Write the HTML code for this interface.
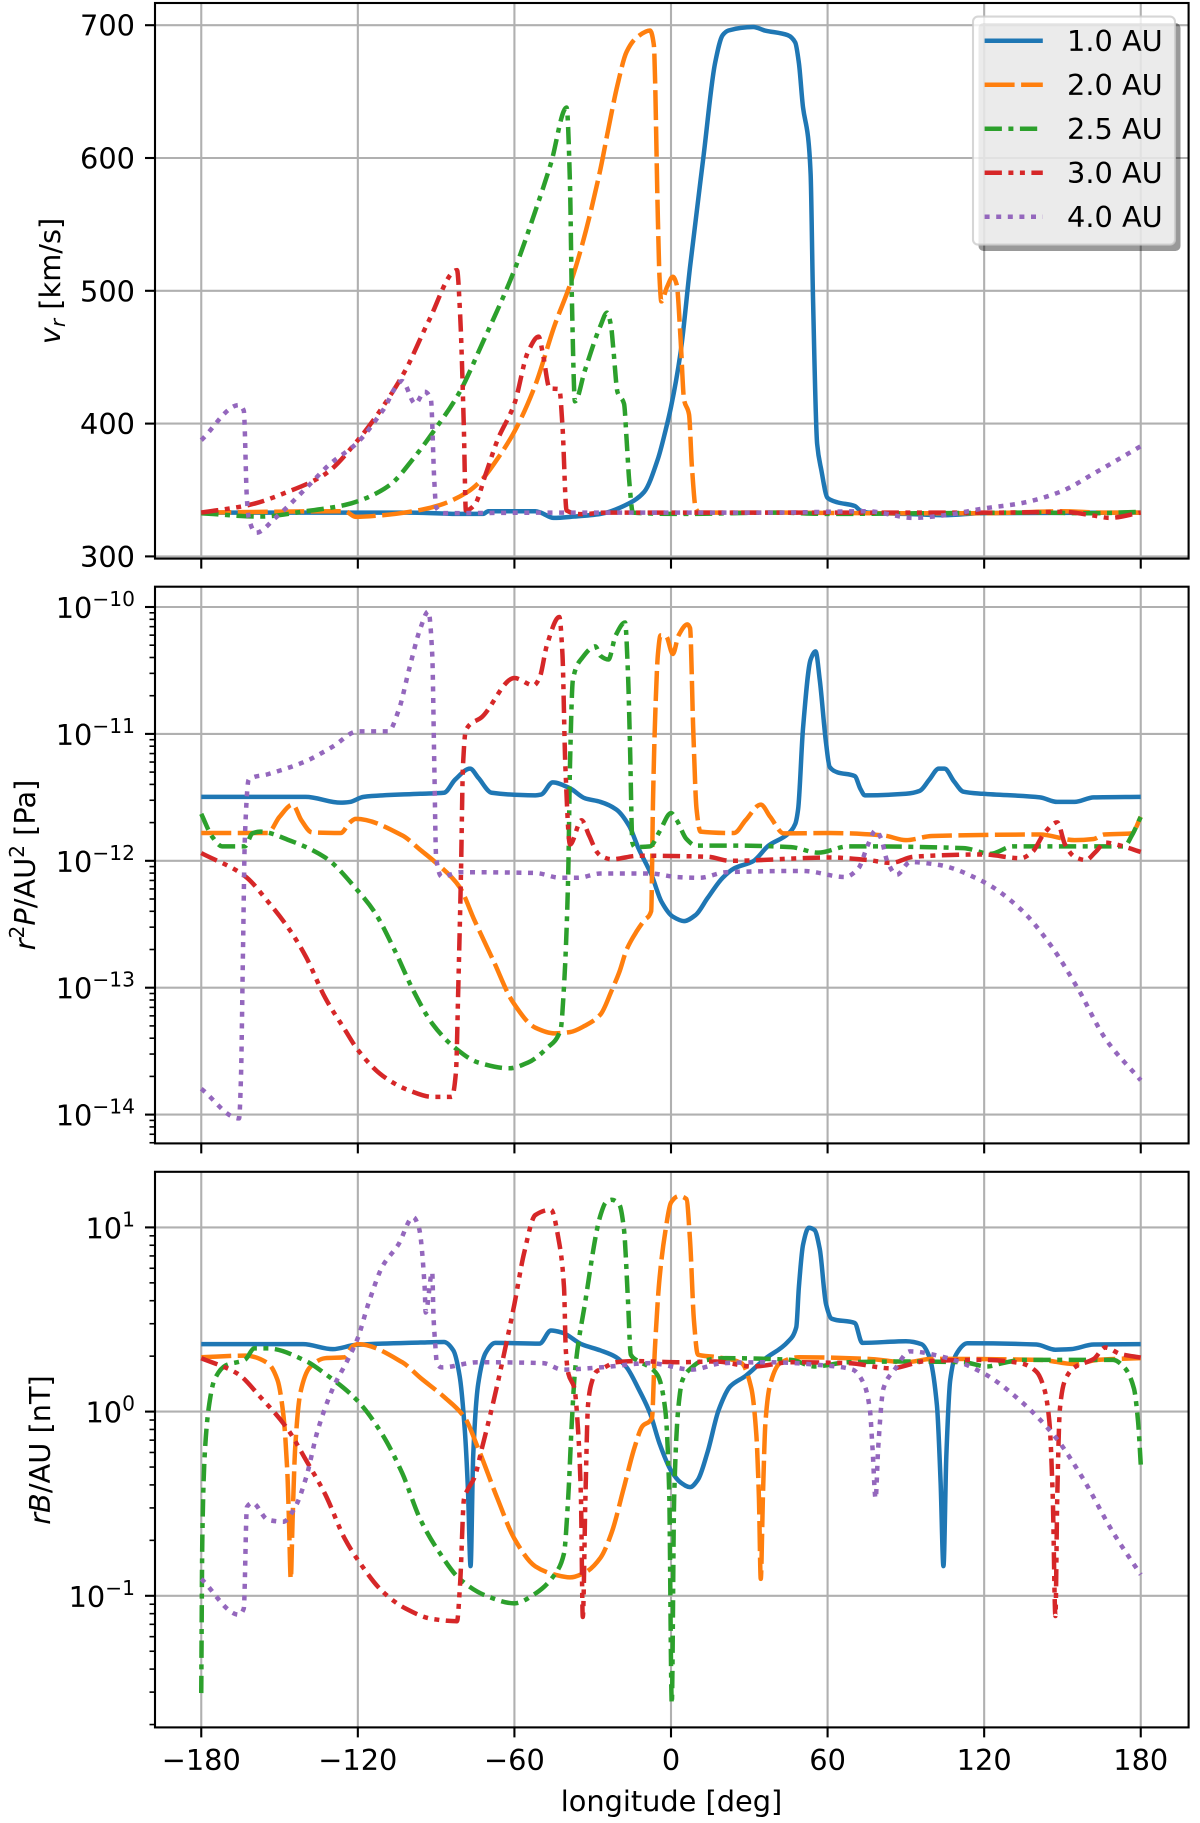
<!DOCTYPE html>
<html lang="en">
<head>
<meta charset="utf-8">
<title>Radial profiles vs longitude</title>
<style>
html,body{margin:0;padding:0;background:#fff;}
svg{display:block;font-family:"DejaVu Sans","Liberation Sans",sans-serif;}
</style>
</head>
<body>
<svg id="figure" xmlns="http://www.w3.org/2000/svg" width="1200" height="1823" viewBox="0 0 1200 1823">
<rect x="0" y="0" width="1200" height="1823" fill="#fff"/>
<defs>
<clipPath id="clip-v"><rect x="155" y="3" width="1033.6" height="555.6"/></clipPath>
<clipPath id="clip-p"><rect x="155" y="586.7" width="1033.6" height="556.7"/></clipPath>
<clipPath id="clip-b"><rect x="155" y="1171.8" width="1033.6" height="555.6"/></clipPath>
</defs>
<g id="panel-v"></g>
<g id="panel-p"></g>
<g id="panel-b"></g>

<text font-size="28.8" fill="#000" text-anchor="middle" transform="translate(60 281) rotate(-90)"><tspan font-style="italic">v</tspan><tspan font-style="italic" font-size="20.2" dy="5">r</tspan><tspan dy="-5"> [km/s]</tspan></text>
<text font-size="28.8" fill="#000" text-anchor="middle" transform="translate(35 865) rotate(-90)"><tspan font-style="italic">r</tspan><tspan font-size="20.2" dy="-11">2</tspan><tspan font-style="italic" dy="11">P</tspan><tspan>/AU</tspan><tspan font-size="20.2" dy="-11">2</tspan><tspan dy="11"> [Pa]</tspan></text>
<text font-size="28.8" fill="#000" text-anchor="middle" transform="translate(50 1450) rotate(-90)"><tspan font-style="italic">rB</tspan><tspan>/AU [nT]</tspan></text>
<text font-size="28.8" fill="#000" text-anchor="middle" x="671.5" y="1811">longitude [deg]</text>

<g id="legend"></g>
</svg>

<script>
// ---- Shared axis data ----
const lonTicks = [-180, -120, -60, 0, 60, 120, 180];
const lonTickLabels = ['\u2212180', '\u2212120', '\u221260', '0', '60', '120', '180'];
const velTicks = [300, 400, 500, 600, 700];
const velTickLabels = ['300', '400', '500', '600', '700'];
const presTickExponents = [-10, -11, -12, -13, -14];
const presMinorDecades = [-15, -14, -13, -12, -11, -10];
const fieldTickExponents = [1, 0, -1];
const fieldMinorDecades = [-2, -1, 0, 1];
const seriesLabels = ['1.0 AU', '2.0 AU', '2.5 AU', '3.0 AU', '4.0 AU'];

// ---- Panel 1: radial speed [km/s] ----
const velLon1 = [-180,-140,-115,-100,-81,-72,-70,-52,-50,-45,-37,-27,-16,-10.3,-5,-2.2,0,3.7,7.3,12.5,16.9,19.8,22,31.5,36,44.7,47.6,49,50.6,52.5,53.5,54.4,56,57.6,60,63.8,70.4,72.6,75.5,90,104.8,119.5,180];
const velVal1 = [333,333,333,333,332,332,334,334,333,329,330,332,340,348.5,373.5,394,412.5,454,518,602,671.6,692.5,696,698.6,696,692.5,687,671.6,638,616,588,496,384.7,365,344,340.7,338,334.5,333,332,331,332.6,333];

const velLon2 = [-180,-125,-120.8,-110.5,-96,-88.5,-78,-72.4,-66.5,-60,-52,-44.6,-38.7,-34,-27,-24,-20.5,-17,-13,-8,-6.6,-5,-4.4,-3.7,-1.5,0.7,2.2,3.7,5,6.9,8,9.5,11,40,80,120,150,165,180];
const velVal2 = [333,334,329.8,331,335,338.7,348.5,358,373.5,394,429,474,504.5,535,592,622,655,680,691,696,685.5,552,510,492,503,510.6,504.5,462.7,418,407,368,336,333,333,332.5,332.5,334,333,333];

const velLon3 = [-180,-157.4,-140,-125,-118,-107.6,-98.8,-91.4,-81,-72.4,-60,-52,-46,-40,-38.7,-38,-36.8,-33,-27,-24.5,-23,-22,-20.5,-18,-17,-16,-14.6,5,40,60,100,140,160,180];
const velVal3 = [332.5,330,334,338.7,343,354,373.5,393,423.7,460,515.6,560,596,638,579.7,496,416.7,440,473.8,483.6,473.8,454,423.7,415,387.5,356.8,333,332,333,332,332.5,333,332.5,333.5];

const velLon4 = [-180,-161.8,-147,-132.5,-120,-110.5,-101.7,-93,-82,-80.8,-79.4,-78.6,-75.3,-71,-66.5,-60,-54.8,-50.7,-49,-46.5,-42.8,-41.6,-40,-34,-25,40,90,125,150,163,168,180];
const velVal4 = [333,338.7,348.5,362,387.5,412.5,440.4,476.6,515.6,482,398.6,334.5,338.7,362,387.5,415,454,465.5,451.5,426.5,426,398.6,334.5,331.8,333,333,333,333,333.5,330.4,329,333];

const velLon5 = [-180,-165.5,-163.7,-162.5,-161.8,-159,-151.6,-140,-131,-120,-110.5,-103,-98,-94.4,-92,-90.7,-90,-87,-40,40,75,93,104.8,119.5,134,149,163.4,180];
const velVal5 = [387.5,414,409.7,343,329,317.8,329,351,369,386,409.7,432,415,424,418,356.8,337,332.6,333,333,334,329,331,336,340,348.5,364,383];

// ---- Panel 2: log10 of r^2 P / AU^2 [Pa] ----
const presLon1 = [-180,-140,-126.6,-123,-117.8,-96,-87,-82.7,-77,-73.8,-68.7,-52,-49.8,-45.3,-38.7,-33,-27,-21,-16,-12.5,-7.3,-3.7,0.7,5,9.5,14,19.8,24.2,31.5,37.4,44.7,47.6,48.7,50.6,53.5,55.4,57,59.4,60.8,63.8,70.4,72.6,74.3,90,95.3,99,102.6,104.8,108.5,112,119.5,141.4,148,154.6,162,180];
const presVal1 = [-11.496,-11.496,-11.542,-11.536,-11.496,-11.472,-11.464,-11.36,-11.274,-11.347,-11.464,-11.484,-11.478,-11.382,-11.429,-11.507,-11.536,-11.595,-11.726,-11.9,-12.12,-12.32,-12.44,-12.475,-12.426,-12.294,-12.134,-12.06,-12.003,-11.88,-11.79,-11.71,-11.595,-10.953,-10.414,-10.35,-10.574,-11.07,-11.26,-11.303,-11.332,-11.434,-11.484,-11.472,-11.449,-11.36,-11.274,-11.274,-11.376,-11.455,-11.472,-11.5,-11.536,-11.536,-11.5,-11.496];

const presLon2 = [-180,-154.5,-150,-145,-141.6,-137.6,-126.6,-123,-120.8,-103,-96,-90,-81,-75.3,-68,-60.7,-52,-44.6,-38.7,-33,-27,-22.7,-19.8,-17,-13.2,-10.3,-7.6,-6.9,-6.2,-5,-4,-1.9,0.7,2.9,6.3,7.3,8.5,9.8,11.3,24.2,28.6,34.4,38,43.2,60.8,81.4,90,100,141.4,154.6,162,166,176.6,180];
const presVal2 = [-11.781,-11.781,-11.653,-11.557,-11.682,-11.776,-11.781,-11.697,-11.67,-11.8,-11.915,-12.017,-12.207,-12.469,-12.79,-13.11,-13.315,-13.36,-13.35,-13.3,-13.21,-13.02,-12.877,-12.7,-12.557,-12.47,-12.397,-11.536,-10.953,-10.37,-10.224,-10.23,-10.37,-10.224,-10.137,-10.166,-10.953,-11.595,-11.77,-11.781,-11.68,-11.557,-11.653,-11.784,-11.781,-11.8,-11.837,-11.805,-11.793,-11.837,-11.828,-11.793,-11.784,-11.653];

const presLon3 = [-180,-175.7,-172,-163.3,-160.4,-157.4,-145.7,-132.5,-120,-113.4,-106,-98.8,-91.4,-82.7,-73.8,-62,-54.8,-47.5,-42.3,-41,-39.4,-38.7,-37.6,-34,-29,-27,-24,-21.2,-17.6,-16.5,-15.7,-14.8,-13.9,-8,-4.4,0,2.2,5.9,9.5,24,46,56.4,68,112,122.4,131,173.7,176.6,180];
const presVal3 = [-11.63,-11.813,-11.886,-11.886,-11.784,-11.77,-11.843,-11.974,-12.236,-12.41,-12.7,-13.02,-13.285,-13.475,-13.59,-13.635,-13.59,-13.475,-13.33,-12.99,-12.12,-11.245,-10.574,-10.4,-10.31,-10.385,-10.414,-10.224,-10.122,-10.516,-11.1,-11.857,-11.892,-11.886,-11.77,-11.624,-11.68,-11.828,-11.88,-11.88,-11.892,-11.936,-11.886,-11.9,-11.945,-11.886,-11.886,-11.8,-11.653];

const presLon4 = [-180,-163.3,-154.5,-145.7,-139.8,-132.5,-125,-120,-110.5,-100.3,-91.5,-84,-82.4,-81.5,-80.5,-79.7,-78.6,-72.4,-60,-52.6,-50.4,-47.5,-42.8,-41.6,-40.5,-38.7,-34.3,-31.4,-28.4,-27,-22.7,-12.5,14,22.7,60.8,75.5,84.3,93,119.5,134,138.5,143,148,151,154.6,159,162.7,166.4,172.2,180];
const presVal4 = [-11.939,-12.12,-12.32,-12.557,-12.76,-13.08,-13.33,-13.49,-13.694,-13.81,-13.86,-13.86,-13.665,-12.99,-12.12,-11.245,-10.97,-10.866,-10.56,-10.618,-10.56,-10.297,-10.079,-10.37,-11.245,-11.872,-11.68,-11.8,-11.93,-11.96,-11.988,-11.96,-11.968,-12,-11.974,-11.994,-12.017,-11.968,-11.95,-11.98,-11.93,-11.784,-11.697,-11.872,-11.968,-11.994,-11.93,-11.857,-11.88,-11.93];

const presLon5 = [-180,-165.5,-164.8,-164,-163.3,-161.8,-154.5,-140,-129.6,-120,-108.3,-104.3,-100.3,-96,-93,-91.5,-90.7,-90,-87.8,-81,-52,-42.3,-35.7,-27,-8,2.2,11,21,50.6,66.7,71.8,75.5,78.4,80.6,82.8,86.5,91.6,102,119.5,134,145.8,156,166.4,180];
const presVal5 = [-13.796,-14.03,-13.72,-12.7,-11.828,-11.36,-11.318,-11.216,-11.1,-10.98,-10.98,-10.81,-10.487,-10.166,-10.035,-10.37,-11.245,-11.974,-12.125,-12.09,-12.096,-12.134,-12.134,-12.1,-12.1,-12.128,-12.134,-12.09,-12.08,-12.128,-12.06,-11.872,-11.76,-11.828,-12,-12.11,-12.01,-12.03,-12.163,-12.382,-12.674,-13.01,-13.4,-13.73];

// ---- Panel 3: log10 of r B / AU [nT] ----
const fieldLon1 = [-180,-141,-129.6,-120.8,-96,-87,-83.4,-81,-79,-77.8,-76.8,-75.8,-73.9,-71,-67.3,-50.4,-46,-41.6,-34.3,-27,-21.2,-17,-12.5,-8,-4.4,0,3.7,7.3,10.3,14,18.3,22.7,28.6,36,44.7,48,49,50.6,52.8,55,57,59.4,61.6,70.4,73.3,90,96,99,101.9,103.3,104.4,105.5,107,109.2,113.6,140,147.3,153.2,162,180];
const fieldVal1 = [0.366,0.366,0.339,0.362,0.375,0.378,0.332,0.194,-0.103,-0.426,-0.839,-0.242,0.148,0.32,0.373,0.369,0.44,0.428,0.366,0.332,0.297,0.24,0.125,-0.01,-0.173,-0.32,-0.385,-0.41,-0.37,-0.22,0.01,0.137,0.194,0.286,0.378,0.458,0.676,0.906,0.998,0.986,0.883,0.584,0.504,0.481,0.373,0.382,0.366,0.297,0.034,-0.38,-0.839,-0.242,0.171,0.309,0.371,0.364,0.336,0.339,0.364,0.366];

const fieldLon2 = [-180,-163,-154.5,-150.8,-148.6,-147,-146.4,-145.7,-145,-144,-142,-138.4,-132.5,-125,-122,-120,-103,-96,-87,-79,-74,-66.5,-60,-52,-44.6,-38.7,-33,-27,-22.7,-18.3,-14,-11,-7.3,-6.2,-4.4,-2.2,0,2.9,5.9,7.3,8.8,10.3,16.9,27,30.8,32.7,33.7,34.4,35.2,36.2,38,41.8,49,75.5,90,100,141.4,154.6,163.4,180];
const fieldVal2 = [0.295,0.304,0.263,0.172,-0.01,-0.334,-0.587,-0.908,-0.587,-0.195,0.103,0.24,0.29,0.295,0.355,0.366,0.268,0.183,0.08,-0.034,-0.196,-0.472,-0.69,-0.84,-0.885,-0.9,-0.874,-0.793,-0.655,-0.426,-0.196,-0.08,-0.035,0.332,0.722,0.975,1.135,1.17,1.154,0.929,0.493,0.309,0.297,0.263,0.125,-0.126,-0.472,-0.908,-0.472,-0.057,0.148,0.263,0.295,0.286,0.268,0.286,0.281,0.258,0.281,0.29];

const fieldLon3 = [-180,-179.6,-178.7,-177,-175,-170.6,-163.3,-159.6,-154.5,-139.8,-132.5,-120,-110.5,-103,-96,-88.5,-81,-70.8,-60,-52,-44.6,-41,-39.4,-38,-36.8,-33,-27,-25,-22.7,-19.8,-18,-16.5,-15.4,-12.5,-8,-5,-2.2,-0.7,0.3,1.2,2.9,4.4,8,11.7,21,46,55,68,90,112,121,127,134.8,169.4,173.7,177.4,179,180];
const fieldVal3 = [-1.528,-0.701,-0.242,0.034,0.171,0.251,0.281,0.343,0.343,0.274,0.205,0.057,-0.127,-0.334,-0.587,-0.77,-0.908,-1,-1.041,-0.988,-0.885,-0.77,-0.47,-0.057,0.217,0.584,1.067,1.135,1.15,1.124,0.986,0.607,0.309,0.274,0.24,0.194,0.01,-0.426,-1.586,-0.472,0.034,0.171,0.24,0.274,0.29,0.281,0.245,0.268,0.272,0.268,0.245,0.263,0.281,0.281,0.24,0.125,-0.058,-0.288];

const fieldLon4 = [-180,-166,-157.4,-147,-139.8,-132.5,-125,-120,-110.5,-101.7,-91.4,-82,-80.8,-79.3,-78,-75.3,-72.4,-68,-63,-60,-56.3,-52,-46,-43,-41,-40.3,-39.3,-37,-35.6,-34.5,-33.8,-32.8,-31.8,-30.6,-28.4,-27,-21,-14,2.2,17,31.5,46,68,84.3,97.5,119.5,134,140,143,145,146.3,147.3,148,149,151,154.6,162,166.4,172.2,180];
const fieldVal4 = [0.29,0.205,0.08,-0.093,-0.265,-0.449,-0.69,-0.805,-0.977,-1.069,-1.126,-1.138,-0.93,-0.472,-0.426,-0.357,-0.196,0.057,0.378,0.584,0.86,1.067,1.096,0.929,0.676,0.332,0.205,0.125,-0.103,-0.472,-1.115,-0.472,0.034,0.148,0.22,0.228,0.268,0.274,0.268,0.272,0.245,0.268,0.263,0.235,0.274,0.281,0.263,0.217,0.125,-0.057,-0.472,-1.11,-0.472,0.011,0.171,0.24,0.286,0.348,0.313,0.293];

const fieldLon5 = [-180,-165.5,-163.7,-162.5,-160.4,-154.5,-148.6,-144,-139.8,-135.4,-129.6,-123.7,-120,-116,-110.5,-104.5,-98.8,-96.6,-94.4,-94,-91.5,-91,-90.4,-89.7,-87.8,-74,-49,-41.6,-27,-8,8,19.8,37.4,59.4,69.6,74,76.2,77.2,78.4,79.4,81.4,85.7,91.6,104.8,119.5,134,147.3,157.6,169.4,180];
const fieldVal5 = [-0.908,-1.103,-1.069,-0.518,-0.495,-0.587,-0.598,-0.518,-0.357,-0.103,0.125,0.286,0.4,0.584,0.79,0.906,1.055,0.998,0.676,0.538,0.757,0.515,0.378,0.263,0.24,0.268,0.263,0.228,0.24,0.263,0.228,0.263,0.268,0.25,0.228,0.148,0.011,-0.195,-0.472,-0.195,0.125,0.228,0.327,0.295,0.21,0.057,-0.139,-0.357,-0.656,-0.885];

// ---- Axis functions ----
function xScale(lon) { return 671 + lon * 2.6097; }
function yVel(v) { return 556.4 - (v - 300) * 1.328; }
function yPres(e) { return 607 + (-10 - e) * 126.9; }
function yField(e) { return 1411.6 - e * 184.2; }

const SVGNS = 'http://www.w3.org/2000/svg';
const FONT = '28.8';
const seriesColors = ['#1f77b4', '#ff7f0e', '#2ca02c', '#d62728', '#9467bd'];
const seriesDash = ['none', '30 6.5', '17.3 6.5 5 6.5', '17.3 6.5 5 6.5 5 6.5', '5 6.6'];

function smoothPath(xs, ys) {
  const n = xs.length;
  const d = [];
  for (let i = 0; i < n - 1; i++) d.push((ys[i + 1] - ys[i]) / (xs[i + 1] - xs[i]));
  const m = [d[0]];
  for (let i = 1; i < n - 1; i++) {
    if (d[i - 1] * d[i] <= 0) {
      m.push(0);
    } else {
      const h0 = xs[i] - xs[i - 1], h1 = xs[i + 1] - xs[i];
      const w1 = 2 * h1 + h0, w2 = h1 + 2 * h0;
      m.push((w1 + w2) / (w1 / d[i - 1] + w2 / d[i]));
    }
  }
  m.push(d[n - 2]);
  let s = 'M' + xs[0].toFixed(2) + ' ' + ys[0].toFixed(2);
  for (let i = 0; i < n - 1; i++) {
    const h = (xs[i + 1] - xs[i]) / 3;
    s += 'C' + (xs[i] + h).toFixed(2) + ' ' + (ys[i] + m[i] * h).toFixed(2) + ' ' +
      (xs[i + 1] - h).toFixed(2) + ' ' + (ys[i + 1] - m[i + 1] * h).toFixed(2) + ' ' +
      xs[i + 1].toFixed(2) + ' ' + ys[i + 1].toFixed(2);
  }
  return s;
}

function makeLine(parent, x1, y1, x2, y2, stroke, width, name) {
  const el = document.createElementNS(SVGNS, 'line');
  el.setAttribute('x1', x1);
  el.setAttribute('y1', y1);
  el.setAttribute('x2', x2);
  el.setAttribute('y2', y2);
  el.setAttribute('stroke', stroke);
  el.setAttribute('stroke-width', width);
  
  
  parent.appendChild(el);
  return el;
}

function makeLabel(parent, x, y, anchor, text, name) {
  const el = document.createElementNS(SVGNS, 'text');
  el.setAttribute('x', x);
  el.setAttribute('y', y);
  el.setAttribute('text-anchor', anchor);
  el.setAttribute('font-size', FONT);
  el.setAttribute('fill', '#000');
  el.textContent = text;
  
  
  parent.appendChild(el);
  return el;
}

function makePowerLabel(parent, y, exponent, name) {
  const el = makeLabel(parent, 135, y, 'end', '10', name);
  const sup = document.createElementNS(SVGNS, 'tspan');
  sup.setAttribute('font-size', '20.2');
  sup.setAttribute('dy', '-12');
  sup.textContent = String(exponent).replace('-', '\u2212');
  el.appendChild(sup);
  return el;
}

function drawPanel(g, top, bottom, clipId, yScale, lonArrays, valArrays, prefix, drawTicks) {
  const left = 155, right = 1188.6;
  const bg = document.createElementNS(SVGNS, 'rect');
  bg.setAttribute('x', left);
  bg.setAttribute('y', top);
  bg.setAttribute('width', right - left);
  bg.setAttribute('height', bottom - top);
  bg.setAttribute('fill', '#fff');
  
  
  g.appendChild(bg);

  lonTicks.forEach(function (lon) {
    makeLine(g, xScale(lon), top, xScale(lon), bottom, '#b0b0b0', 2.1, prefix + '-vertical-gridline');
  });
  drawTicks(g, left, right);

  const plot = document.createElementNS(SVGNS, 'g');
  plot.setAttribute('clip-path', 'url(#' + clipId + ')');
  
  
  g.appendChild(plot);

  lonArrays.forEach(function (lons, s) {
    const vals = valArrays[s];
    const xs = lons.map(xScale);
    const ys = vals.map(yScale);
    const line = document.createElementNS(SVGNS, 'path');
    line.setAttribute('d', smoothPath(xs, ys));
    line.setAttribute('fill', 'none');
    line.setAttribute('stroke', seriesColors[s]);
    line.setAttribute('stroke-width', '4.5');
    line.setAttribute('stroke-linejoin', 'round');
    if (seriesDash[s] !== 'none') line.setAttribute('stroke-dasharray', seriesDash[s]);
    
    
    plot.appendChild(line);
  });

  const frame = document.createElementNS(SVGNS, 'rect');
  frame.setAttribute('x', left);
  frame.setAttribute('y', top);
  frame.setAttribute('width', right - left);
  frame.setAttribute('height', bottom - top);
  frame.setAttribute('fill', 'none');
  frame.setAttribute('stroke', '#000');
  frame.setAttribute('stroke-width', '2.1');
  
  
  g.appendChild(frame);

  lonTicks.forEach(function (lon) {
    makeLine(g, xScale(lon), bottom, xScale(lon), bottom + 10, '#000', 2.1, prefix + '-x-tick');
  });
}

function logMinorTicks(g, left, decades, yScale, low, high, prefix) {
  const multipliers = [2, 3, 4, 5, 6, 7, 8, 9];
  decades.forEach(function (d) {
    multipliers.forEach(function (m) {
      const e = d + Math.log10(m);
      if (e > low && e < high) {
        makeLine(g, left - 5.5, yScale(e), left, yScale(e), '#000', 1.6, prefix + '-y-minor-tick');
      }
    });
  });
}

// Panel 1
drawPanel(document.getElementById('panel-v'), 3, 558.6, 'clip-v', yVel,
  [velLon1, velLon2, velLon3, velLon4, velLon5],
  [velVal1, velVal2, velVal3, velVal4, velVal5], 'velocity',
  function (g, left, right) {
    velTicks.forEach(function (v, i) {
      makeLine(g, left, yVel(v), right, yVel(v), '#b0b0b0', 2.1, 'velocity-horizontal-gridline');
      makeLine(g, left - 10, yVel(v), left, yVel(v), '#000', 2.1, 'velocity-y-tick');
      makeLabel(g, 135, yVel(v) + 10.5, 'end', velTickLabels[i], 'velocity-y-tick-label');
    });
  });

// Panel 2
drawPanel(document.getElementById('panel-p'), 586.7, 1143.4, 'clip-p', yPres,
  [presLon1, presLon2, presLon3, presLon4, presLon5],
  [presVal1, presVal2, presVal3, presVal4, presVal5], 'pressure',
  function (g, left, right) {
    presTickExponents.forEach(function (e) {
      makeLine(g, left, yPres(e), right, yPres(e), '#b0b0b0', 2.1, 'pressure-horizontal-gridline');
      makeLine(g, left - 10, yPres(e), left, yPres(e), '#000', 2.1, 'pressure-y-tick');
      makePowerLabel(g, yPres(e) + 11, e, 'pressure-y-tick-label');
    });
    logMinorTicks(g, left, presMinorDecades, yPres, -14.227, -9.84, 'pressure');
  });

// Panel 3
drawPanel(document.getElementById('panel-b'), 1171.8, 1727.4, 'clip-b', yField,
  [fieldLon1, fieldLon2, fieldLon3, fieldLon4, fieldLon5],
  [fieldVal1, fieldVal2, fieldVal3, fieldVal4, fieldVal5], 'magnetic-field',
  function (g, left, right) {
    fieldTickExponents.forEach(function (e) {
      makeLine(g, left, yField(e), right, yField(e), '#b0b0b0', 2.1, 'magnetic-field-horizontal-gridline');
      makeLine(g, left - 10, yField(e), left, yField(e), '#000', 2.1, 'magnetic-field-y-tick');
      makePowerLabel(g, yField(e) + 11, e, 'magnetic-field-y-tick-label');
    });
    logMinorTicks(g, left, fieldMinorDecades, yField, -1.716, 1.3, 'magnetic-field');
  });

// x tick labels (bottom panel only)
lonTicks.forEach(function (lon, i) {
  makeLabel(document.getElementById('panel-b'), xScale(lon), 1770, 'middle', lonTickLabels[i], 'x-tick-label');
});

// Legend
(function () {
  const g = document.getElementById('legend');
  const shadow = document.createElementNS(SVGNS, 'rect');
  shadow.setAttribute('x', '978.5');
  shadow.setAttribute('y', '23');
  shadow.setAttribute('width', '202');
  shadow.setAttribute('height', '228');
  shadow.setAttribute('rx', '5');
  shadow.setAttribute('fill', '#000');
  shadow.setAttribute('fill-opacity', '0.4');
  
  
  g.appendChild(shadow);

  const box = document.createElementNS(SVGNS, 'rect');
  box.setAttribute('x', '973');
  box.setAttribute('y', '16.6');
  box.setAttribute('width', '202');
  box.setAttribute('height', '228');
  box.setAttribute('rx', '5');
  box.setAttribute('fill', '#fff');
  box.setAttribute('fill-opacity', '0.8');
  box.setAttribute('stroke', '#ccc');
  box.setAttribute('stroke-opacity', '0.8');
  box.setAttribute('stroke-width', '2.1');
  
  
  g.appendChild(box);

  seriesLabels.forEach(function (label, s) {
    const y = 40.7 + s * 44;
    const handle = makeLine(g, 984.6, y, 1042.8, y, seriesColors[s], 4.5, 'legend-handle');
    if (seriesDash[s] !== 'none') handle.setAttribute('stroke-dasharray', seriesDash[s]);
    makeLabel(g, 1067, y + 10.5, 'start', label, 'legend-label');
  });
})();
</script>
</body>
</html>
